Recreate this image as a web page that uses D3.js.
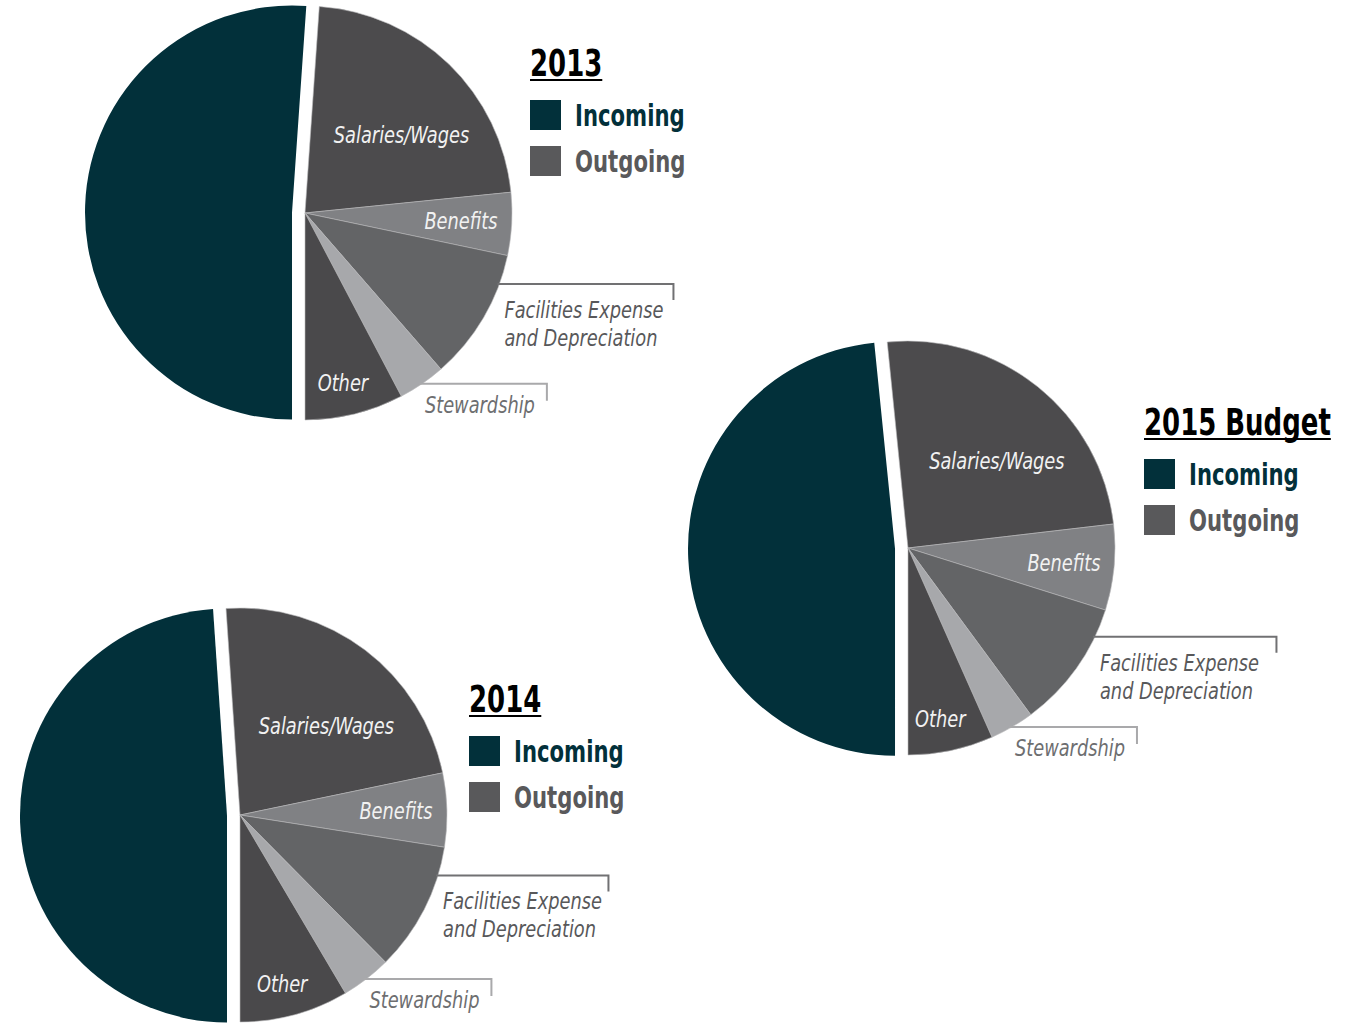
<html>
<head>
<title>Incoming / Outgoing</title>
<script src="https://d3js.org/d3.v7.min.js"></script>
<style>
  body { margin: 0; background: #fff; }
  text { font-family: "DejaVu Sans Condensed", "DejaVu Sans", sans-serif; font-stretch: condensed; }
  .lab { font-style: italic; font-size: 23px; }
  .ttl { font-weight: bold; font-size: 38px; fill: #000; }
  .leg { font-weight: bold; font-size: 31px; }
</style>
</head>
<body>
<svg id="chart" width="1362" height="1026"></svg>
<script>

// data (share of the whole, %)
var years       = ["2013", "2014", "2015 Budget"];
var categories  = ["Salaries/Wages", "Benefits", "Facilities Expense and Depreciation", "Stewardship", "Other", "Incoming"];
var salaries    = [22.3, 22.8, 24.75];
var benefits    = [4.9, 5.75, 6.7];
var facilities  = [10.3, 10.1, 10.05];
var stewardship = [3.7, 3.9, 3.45];
var other       = [7.7, 8.5, 6.65];
var incoming    = [51.1, 48.9, 48.4];
var legendKeys  = ["Incoming", "Outgoing"];

// layout
var R = 207, GAP = 13;
var LABEL_SQ = 0.86, LEG_SQ = 0.76;   // horizontal squeeze, to get a condensed face
var panels = [
  {cx: 305, cy: 213, lx: 530, ly: 76},
  {cx: 240, cy: 815, lx: 469, ly: 712},
  {cx: 908, cy: 548, lx: 1144, ly: 435}
];
var colors = d3.scaleOrdinal()
  .domain(categories)
  .range(["#4c4b4d", "#808184", "#636466", "#a7a8ab", "#4a494b", "#02303a"]);
var legendColor = {"Incoming": "#02303a", "Outgoing": "#59595b"};

var svg = d3.select("#chart");
var arc = d3.arc().innerRadius(0).outerRadius(R);

// text squeezed horizontally around its anchor
function sqText(parent, cls, x, y, f, anchor, fill, str) {
  return parent.append("text").attr("class", cls)
    .attr("transform", "translate(" + x + "," + y + ") scale(" + f + ",1)")
    .attr("text-anchor", anchor || "start")
    .attr("fill", fill)
    .text(str);
}

years.forEach(function (yr, i) {
  var p = panels[i];
  var vals = [salaries[i], benefits[i], facilities[i], stewardship[i], other[i], incoming[i]];
  var total = d3.sum(vals);
  var outSum = total - incoming[i];
  var a0 = Math.PI - 2 * Math.PI * outSum / total;

  var pie = d3.pie().sort(null).value(function (d) { return d.v; })
    .startAngle(a0).endAngle(a0 + 2 * Math.PI);
  var arcs = pie(categories.map(function (c, k) { return {cat: c, v: vals[k]}; }));

  var g = svg.append("g").attr("transform", "translate(" + p.cx + "," + p.cy + ")");

  g.selectAll("path").data(arcs).enter().append("path")
    .attr("d", arc)
    .attr("fill", function (d) { return colors(d.data.cat); })
    .attr("stroke", function (d) { return d.data.cat == "Incoming" ? "none" : "#b9b9bb"; })
    .attr("stroke-width", 0.6)
    .attr("transform", function (d) {
      if (d.data.cat != "Incoming") return null;
      var m = (d.startAngle + d.endAngle) / 2;
      return "translate(" + (Math.sin(m) * GAP) + "," + (-Math.cos(m) * GAP) + ")";
    });

  function pt(a, rr) { return [Math.sin(a) * rr, -Math.cos(a) * rr]; }
  var byCat = {};
  arcs.forEach(function (d) { byCat[d.data.cat] = d; });

  // inside labels
  var s = byCat["Salaries/Wages"];
  var sp = pt((s.startAngle + s.endAngle) / 2 + 0.12, R * 0.6);
  sqText(g, "lab", sp[0], sp[1] + 8, LABEL_SQ, "middle", "#f2f2f2", "Salaries/Wages");

  var b = byCat["Benefits"];
  var bp = pt((b.startAngle + b.endAngle) / 2, R * 0.75);
  sqText(g, "lab", R * 0.93, bp[1] + 8, LABEL_SQ, "end", "#f2f2f2", "Benefits");

  var o = byCat["Other"];
  var op = pt((o.startAngle + o.endAngle) / 2, R * 0.845);
  sqText(g, "lab", op[0] - 4, op[1] + 8, LABEL_SQ, "middle", "#f2f2f2", "Other");

  // leader: facilities
  var f = byCat["Facilities Expense and Depreciation"];
  var fp = pt(f.startAngle + 0.22 * (f.endAngle - f.startAngle), R);
  var fx2 = R * 1.78;
  g.append("path")
    .attr("d", "M" + (fp[0] - 2) + "," + fp[1] + "H" + fx2 + "V" + (fp[1] + 16))
    .attr("fill", "none").attr("stroke", "#717173").attr("stroke-width", 2);
  sqText(g, "lab", fp[0] + 5, fp[1] + 34, LABEL_SQ, "start", "#58585a", "Facilities Expense");
  sqText(g, "lab", fp[0] + 5, fp[1] + 62, LABEL_SQ, "start", "#58585a", "and Depreciation");

  // leader: stewardship
  var w = byCat["Stewardship"];
  var wp = pt((w.startAngle + w.endAngle) / 2, R);
  g.append("path")
    .attr("d", "M" + (wp[0] - 3) + "," + wp[1] + "H" + (wp[0] + 125) + "V" + (wp[1] + 17))
    .attr("fill", "none").attr("stroke", "#a9a9ab").attr("stroke-width", 2);
  sqText(g, "lab", wp[0] + 3, wp[1] + 29, LABEL_SQ, "start", "#6d6e70", "Stewardship");

  // legend
  var lg = svg.append("g").attr("transform", "translate(" + p.lx + "," + p.ly + ")");
  var tt = sqText(lg, "ttl", 0, 0, LEG_SQ, "start", "#000", yr);
  var tw = tt.node().getComputedTextLength() * LEG_SQ;
  lg.append("line").attr("x1", 0).attr("x2", tw).attr("y1", 4).attr("y2", 4)
    .attr("stroke", "#000").attr("stroke-width", 2);

  legendKeys.forEach(function (k, j) {
    lg.append("rect").attr("x", 0).attr("y", 24 + j * 46).attr("width", 31).attr("height", 30)
      .attr("fill", legendColor[k]);
    sqText(lg, "leg", 45, 50 + j * 46, LEG_SQ, "start", legendColor[k], k);
  });
});

</script>
</body>
</html>
